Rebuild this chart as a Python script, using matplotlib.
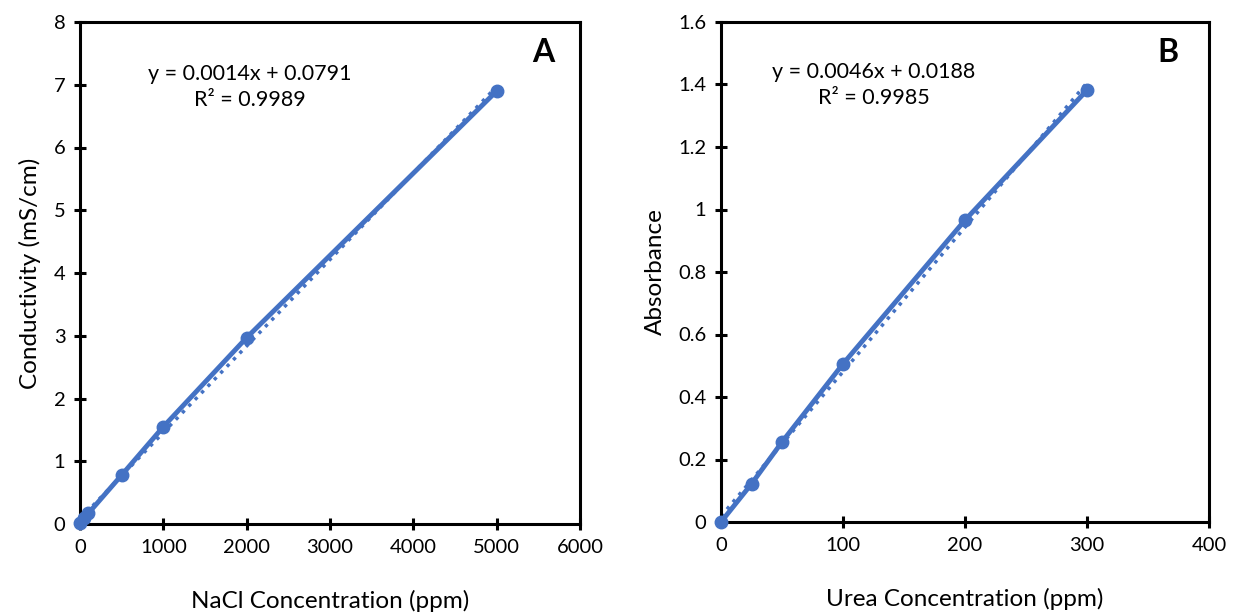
import numpy as np
import matplotlib
matplotlib.use("Agg")
import matplotlib.pyplot as plt

plt.rcParams['font.family'] = ['Lato', 'DejaVu Sans']

# Panel A data
nacl_ppm = [0, 50, 100, 500, 1000, 2000, 5000]
conductivity = [0.02, 0.09, 0.17, 0.78, 1.55, 2.97, 6.90]
eq_a = "y = 0.0014x + 0.0791"
r2_a = "R² = 0.9989"

# Panel B data
urea_ppm = [0, 25, 50, 100, 200, 300]
absorbance = [0.0, 0.122, 0.256, 0.506, 0.966, 1.382]
eq_b = "y = 0.0046x + 0.0188"
r2_b = "R² = 0.9985"

blue = "#4472C4"

fig = plt.figure(figsize=(12.33, 6.12), dpi=100)
axA = fig.add_axes([80/1233, 1-524/612, 500/1233, 502/612])
axB = fig.add_axes([721/1233, 1-522/612, 488/1233, 500/612])

def style(ax):
    for s in ax.spines.values():
        s.set_linewidth(2.2)
        s.set_color('black')
    ax.tick_params(direction='inout', length=9, width=2.2, labelsize=14.5, pad=6)

def draw(ax, x, y, eq, r2, tx, ty1, ty2, letter, lx, ly):
    x = np.array(x, float); y = np.array(y, float)
    m, b = np.polyfit(x, y, 1)
    xs = np.array([x.min(), x.max()])
    ax.plot(x, y, '-', color=blue, lw=3.5, marker='o', ms=9, clip_on=False, zorder=3)
    ax.plot(xs, m*xs + b, ':', color=blue, lw=2.5, zorder=2, clip_on=False)
    ax.text(tx, ty1, eq, ha='center', va='center', fontsize=15.5)
    ax.text(tx, ty2, r2, ha='center', va='center', fontsize=15.5)
    ax.text(lx, ly, letter, ha='center', va='center', fontsize=23, fontweight='bold')

style(axA); style(axB)

draw(axA, nacl_ppm, conductivity, eq_a, r2_a, 2040, 7.17, 6.76, 'A', 5560, 7.52)
axA.set_xlim(0, 6000); axA.set_ylim(0, 8)
axA.set_xticks(range(0, 6001, 1000))
axA.set_yticks(range(0, 9))
axA.set_xlabel("NaCl Concentration (ppm)", fontsize=17.5, labelpad=25)
axA.set_ylabel("Conductivity (mS/cm)", fontsize=17.5, labelpad=9)

draw(axB, urea_ppm, absorbance, eq_b, r2_b, 125, 1.44, 1.357, 'B', 366, 1.504)
axB.set_xlim(0, 400); axB.set_ylim(0, 1.6)
axB.set_xticks(range(0, 401, 100))
axB.set_yticks(np.arange(0, 1.61, 0.2))
axB.set_yticklabels(['0', '0.2', '0.4', '0.6', '0.8', '1', '1.2', '1.4', '1.6'])
axB.set_xlabel("Urea Concentration (ppm)", fontsize=17.5, labelpad=25)
axB.set_ylabel("Absorbance", fontsize=17.5, labelpad=9)

fig.savefig("out.png", dpi=100)
